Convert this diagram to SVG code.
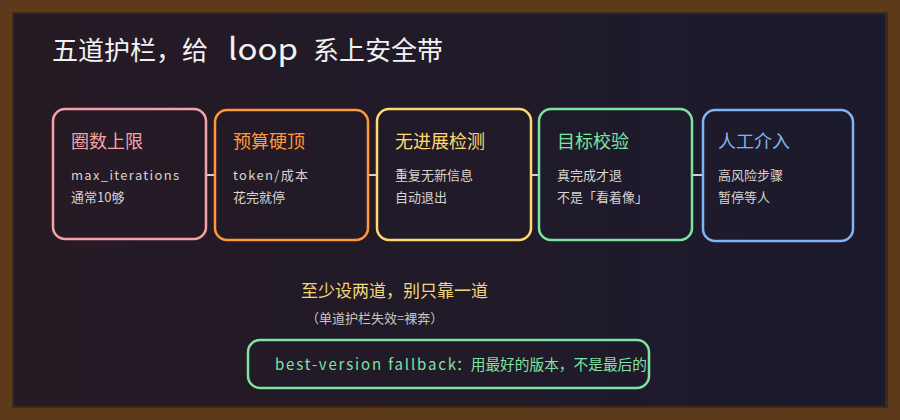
<svg xmlns="http://www.w3.org/2000/svg" width="900" height="420" viewBox="0 0 900 420">
  <defs>
    <linearGradient id="bg" x1="0" y1="0" x2="1" y2="0">
      <stop offset="0" stop-color="#261a24"/>
      <stop offset="1" stop-color="#1c1a2e"/>
    </linearGradient>
    <marker id="arr" viewBox="0 0 6 8" refX="3" refY="4" markerWidth="6" markerHeight="8" orient="auto" markerUnits="userSpaceOnUse">
      <path d="M3,0 L3,8" stroke="#cfcfcf" stroke-width="1.8" fill="none"/>
    </marker>
    <style>
      text { font-family: "Noto Sans CJK SC", "Noto Sans", sans-serif; }
      .box { fill: none; stroke-width: 2.5; }
      .ttl { font-size: 18px; }
      .body { font-size: 13px; fill: #d8d4d0; }
      .conn { stroke: #cfcfcf; stroke-width: 2; fill: none; }
    </style>
  </defs>
  <rect x="0" y="0" width="900" height="420" fill="#5c3a1a"/>
  <rect x="12" y="12" width="876" height="396" fill="#3f2a18"/>
  <rect x="14" y="14" width="871" height="392" fill="url(#bg)"/>

  <g id="title" fill="#f2f2f2" font-size="26">
    <text x="52" y="60">五道护栏，给</text>
    <text x="228" y="60" font-size="30" textLength="70" lengthAdjust="spacingAndGlyphs" font-family="Liberation Sans, sans-serif">loop</text>
    <text x="313" y="60">系上安全带</text>
  </g>

  <g id="connectors">
    <line class="conn" x1="206" y1="175" x2="215" y2="175" marker-end="url(#arr)"/>
    <line class="conn" x1="368" y1="175" x2="377" y2="175" marker-end="url(#arr)"/>
    <line class="conn" x1="531" y1="175" x2="539" y2="175" marker-end="url(#arr)"/>
    <line class="conn" x1="692" y1="175" x2="703" y2="175" marker-end="url(#arr)"/>
  </g>

  <g id="node1">
    <rect class="box" x="53" y="109" width="153" height="130" rx="12" stroke="#f4a3a8"/>
    <text class="ttl" x="71" y="148" fill="#f4a3a8">圈数上限</text>
    <text class="body" x="71" y="180" textLength="108" lengthAdjust="spacing">max_iterations</text>
    <text class="body" x="71" y="202">通常10够</text>
  </g>
  <g id="node2">
    <rect class="box" x="215" y="110" width="153" height="130" rx="12" stroke="#ff9838"/>
    <text class="ttl" x="233" y="148" fill="#ff9838">预算硬顶</text>
    <text class="body" x="233" y="180" textLength="75" lengthAdjust="spacing">token/成本</text>
    <text class="body" x="233" y="202">花完就停</text>
  </g>
  <g id="node3">
    <rect class="box" x="377" y="109" width="154" height="131" rx="12" stroke="#ffd970"/>
    <text class="ttl" x="395" y="148" fill="#ffd970">无进展检测</text>
    <text class="body" x="395" y="180">重复无新信息</text>
    <text class="body" x="395" y="202">自动退出</text>
  </g>
  <g id="node4">
    <rect class="box" x="539" y="109" width="153" height="131" rx="12" stroke="#7ee3a0"/>
    <text class="ttl" x="557" y="148" fill="#7ee3a0">目标校验</text>
    <text class="body" x="557" y="180">真完成才退</text>
    <text class="body" x="557" y="202">不是「看着像」</text>
  </g>
  <g id="node5">
    <rect class="box" x="703" y="110" width="150" height="131" rx="12" stroke="#82b4f2"/>
    <text class="ttl" x="718" y="148" fill="#82b4f2">人工介入</text>
    <text class="body" x="718" y="180">高风险步骤</text>
    <text class="body" x="718" y="202">暂停等人</text>
  </g>

  <text x="301" y="297" font-size="17" fill="#f3d77a">至少设两道，别只靠一道</text>
  <text x="306" y="323" font-size="13" fill="#c8c4c0">（单道护栏失效=裸奔）</text>

  <g id="fallback">
    <rect class="box" x="248" y="340" width="401" height="48" rx="12" stroke="#7ee3a0"/>
    <text x="275" y="370" font-size="15" fill="#7ee3a0" textLength="181" lengthAdjust="spacing">best-version fallback</text>
    <text x="456" y="370" font-size="15" fill="#7ee3a0" textLength="191" lengthAdjust="spacingAndGlyphs">：用最好的版本，不是最后的</text>
  </g>
</svg>
